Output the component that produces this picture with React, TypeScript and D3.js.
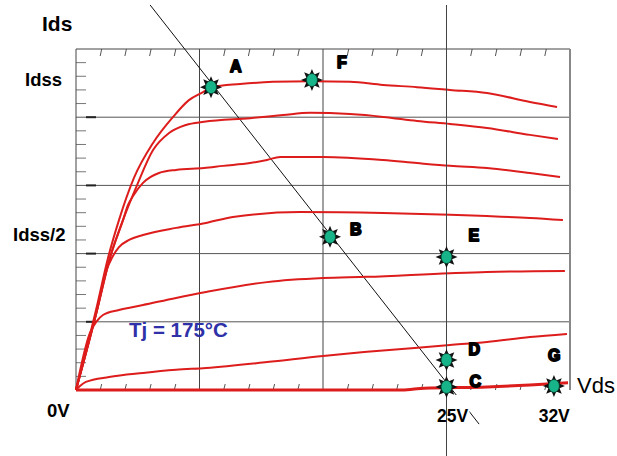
import React from "react";
import * as d3 from "d3";

// Output characteristics: Vds in volts, Ids as a fraction of Idss
const X_MAX = 100 / 3;
const Y_MAX = 1.1;

const curveIdss: [number, number][] = [
  [0, 0], [1.35, 0.258], [2.16, 0.426], [2.9, 0.548], [3.91, 0.684], [5.2, 0.797],
  [6.55, 0.881], [7.62, 0.935], [8.57, 0.961], [9.18, 0.977], [11.07, 0.987],
  [13.29, 0.994], [15.92, 0.996], [18.49, 0.994], [20.72, 0.984], [23.01, 0.977],
  [25.24, 0.968], [27.73, 0.958], [30.63, 0.929], [32.46, 0.913],
];
const curve2: [number, number][] = [
  [0, 0], [1.42, 0.258], [2.29, 0.426], [3.17, 0.548], [4.12, 0.661], [5.2, 0.774],
  [6.28, 0.829], [7.42, 0.855], [8.64, 0.865], [11.74, 0.877], [13.97, 0.887],
  [15.79, 0.894], [18.49, 0.89], [20.72, 0.881], [23.01, 0.868], [25.24, 0.858],
  [27.73, 0.845], [30.63, 0.823], [32.52, 0.81],
];
const curve3: [number, number][] = [
  [0, 0], [1.42, 0.258], [2.29, 0.426], [3.17, 0.548], [3.51, 0.597], [3.85, 0.626],
  [4.52, 0.668], [5.6, 0.7], [6.75, 0.71], [8.64, 0.716], [9.92, 0.723],
  [11.74, 0.732], [12.89, 0.742], [13.77, 0.752], [16.67, 0.752], [20.72, 0.742],
  [23.01, 0.732], [25.24, 0.723], [27.73, 0.716], [30.63, 0.7], [32.66, 0.687],
];
const curve4: [number, number][] = [
  [0, 0], [1.42, 0.258], [2.02, 0.381], [2.29, 0.413], [2.9, 0.461], [3.58, 0.484],
  [4.52, 0.5], [6.75, 0.523], [8.77, 0.539], [10.59, 0.558], [15.11, 0.574],
  [20.72, 0.571], [25.24, 0.565], [27.73, 0.561], [30.63, 0.555], [32.86, 0.548],
];
const curve5: [number, number][] = [
  [0, 0], [0.94, 0.184], [1.35, 0.219], [1.82, 0.242], [2.9, 0.258], [4.52, 0.274],
  [6.75, 0.297], [8.77, 0.316], [12.89, 0.348], [16.67, 0.361], [19.64, 0.365],
  [25.24, 0.377], [27.73, 0.381], [32.99, 0.384],
];
const curve6: [number, number][] = [
  [0, 0], [0.27, 0.013], [0.67, 0.026], [2.23, 0.042], [4.52, 0.055], [6.75, 0.065],
  [8.77, 0.071], [12.89, 0.09], [16.67, 0.11], [19.64, 0.123], [25.24, 0.145],
  [27.73, 0.155], [30.63, 0.171], [33.13, 0.181],
];
const curveOff: [number, number][] = [
  [0, 0], [22, 0], [23.5, 0.006], [27.73, 0.01], [30.63, 0.016], [33.2, 0.023],
];
const curves = [curveIdss, curve2, curve3, curve4, curve5, curve6];

// Load line and operating points
const loadLine: [number, number][] = [[5.0, 1.242], [27.2, -0.11]];
const pointNames = ["A", "F", "B", "E", "D", "C", "G"];
const pointVds = [9.11, 15.92, 17.14, 25, 25, 25, 32.25];
const pointIds = [0.977, 1.0, 0.494, 0.429, 0.097, 0.01, 0.013];
const labelDx = [19, 25, 20, 22, 22, 23, -6];
const labelDy = [-15, -12, -2, -16, -5, 0, -25];

const yLabels = ["Idss", "Idss/2"];
const yLabelValues = [1, 0.5];
const xLabels = ["0V", "25V", "32V"];
const xLabelValues = [0, 25, 32];

const W = 617;
const H = 456;
const x = d3.scaleLinear().domain([0, X_MAX]).range([76, 570]);
const y = d3.scaleLinear().domain([0, Y_MAX]).range([390, 49]);

const smooth = d3
  .line<[number, number]>()
  .x((d) => x(d[0]))
  .y((d) => y(d[1]))
  .curve(d3.curveMonotoneX);
const straight = d3
  .line<[number, number]>()
  .x((d) => x(d[0]))
  .y((d) => y(d[1]));

function starPath(r1: number, r2: number, n: number) {
  const pts: [number, number][] = [];
  for (let i = 0; i < n * 2; i++) {
    const a = (Math.PI * i) / n - Math.PI / 2;
    const r = i % 2 === 0 ? r1 : r2;
    pts.push([Math.cos(a) * r, Math.sin(a) * r]);
  }
  return "M" + pts.map((p) => p.join(",")).join("L") + "Z";
}

const star = starPath(11, 6, 8);

export default function App() {
  const majorX = [1, 2].map((i) => (i * X_MAX) / 4);
  const majorY = [1, 2, 3, 4].map((i) => (i * Y_MAX) / 5);
  const minorX = d3.range(1, 20).filter((i) => i % 5 !== 0).map((i) => (i * X_MAX) / 20);
  const minorY = d3.range(1, 25).map((i) => (i * Y_MAX) / 25);
  const font = "'Liberation Sans', Arial, sans-serif";

  return (
    <svg
      width={W}
      height={H}
      style={{ position: "absolute", left: 0, top: 0, background: "#fff" }}
      fontFamily={font}
    >
      <rect x={0} y={0} width={W} height={H} fill="#fff" />

      {/* grid */}
      {majorX.map((v) => (
        <line key={"gx" + v} x1={x(v)} x2={x(v)} y1={y(Y_MAX)} y2={y(0)} stroke="#444" strokeWidth={1} />
      ))}
      {majorY.map((v) => (
        <line key={"gy" + v} x1={x(0)} x2={x(X_MAX)} y1={y(v)} y2={y(v)} stroke="#555" strokeWidth={1} />
      ))}

      {/* minor ticks */}
      {minorX.map((v) => (
        <g key={"tx" + v}>
          <line x1={x(v) + 1} x2={x(v) - 0.5} y1={y(Y_MAX)} y2={y(Y_MAX) + 7} stroke="#555" strokeWidth={1} />
          <line x1={x(v) + 1} x2={x(v) - 0.5} y1={y(0) - 6} y2={y(0)} stroke="#555" strokeWidth={1} />
        </g>
      ))}
      {minorY.map((v, i) => (
        <line
          key={"ty" + v}
          x1={x(0) + ((i + 1) % 5 === 0 ? 10 : 0)}
          x2={x(0) + ((i + 1) % 5 === 0 ? 20 : 10)}
          y1={y(v)}
          y2={y(v)}
          stroke={(i + 1) % 5 === 0 ? "#222" : "#777"}
          strokeWidth={(i + 1) % 5 === 0 ? 2 : 1}
        />
      ))}

      {/* frame */}
      <line x1={x(0)} x2={x(X_MAX)} y1={y(Y_MAX)} y2={y(Y_MAX)} stroke="#444" strokeWidth={1} />
      <line x1={x(0)} x2={x(0)} y1={y(Y_MAX)} y2={y(0)} stroke="#444" strokeWidth={1} />
      <line x1={x(X_MAX)} x2={x(X_MAX)} y1={y(Y_MAX)} y2={y(0)} stroke="#888" strokeWidth={2} />

      {/* load line */}
      <path d={straight(loadLine) || ""} fill="none" stroke="#111" strokeWidth={1} />

      {/* characteristic curves */}
      {curves.map((c, i) => (
        <path key={"c" + i} d={smooth(c) || ""} fill="none" stroke="#dd1c1c" strokeWidth={2} />
      ))}
      <path d={smooth(curveOff) || ""} fill="none" stroke="#dd1c1c" strokeWidth={3} />

      {/* label box under 25V, then the 25V gridline running full height */}
      <rect x={x(25) - 11} y={395} width={34} height={30} fill="#fff" />
      <line x1={x(25)} x2={x(25)} y1={5} y2={H} stroke="#444" strokeWidth={1} />

      {/* operating points */}
      {pointNames.map((n, i) => {
        const cx = x(pointVds[i]);
        const cy = y(pointIds[i]);
        return (
          <g key={n}>
            <path d={star} transform={`translate(${cx},${cy})`} fill="#111" />
            <ellipse cx={cx} cy={cy} rx={5.5} ry={6.5} fill="#17b489" stroke="#0b3a2a" strokeWidth={0.8} />
            <text
              x={cx + labelDx[i]}
              y={cy + labelDy[i]}
              fontSize={16}
              fontWeight="bold"
              stroke="#000"
              strokeWidth={1.8}
              strokeLinejoin="round"
              fill="#000"
            >
              {n}
            </text>
          </g>
        );
      })}

      {/* axis titles and labels */}
      <text x={42} y={31} fontSize={21} fontWeight="bold" fill="#000">Ids</text>
      {yLabels.map((t, i) => (
        <text key={t} x={i === 0 ? 25 : 13} y={y(yLabelValues[i]) + 6} fontSize={18.5} fontWeight="bold" fill="#000">
          {t}
        </text>
      ))}
      <text x={577} y={393} fontSize={22} fill="#000">Vds</text>
      {xLabels.map((t, i) => (
        <text
          key={t}
          x={i === 0 ? 47 : x(xLabelValues[i]) + (i === 1 ? 6 : 4)}
          y={i === 0 ? 417 : 422}
          fontSize={i === 0 ? 18.5 : 17.5}
          fontWeight="bold"
          textAnchor={i === 0 ? "start" : "middle"}
          fill="#000"
        >
          {t}
        </text>
      ))}
      <text x={129} y={337} fontSize={20.5} fontWeight="bold" fill="#2e31a8">Tj = 175°C</text>
    </svg>
  );
}
